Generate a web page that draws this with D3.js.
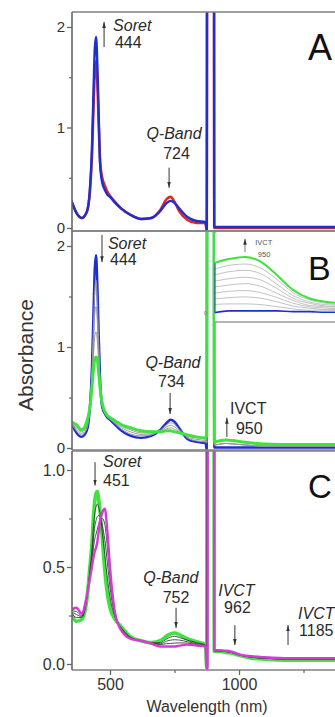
<!DOCTYPE html>
<html>
<head>
<meta charset="utf-8">
<script src="https://d3js.org/d3.v7.min.js"></script>
<style>
  body { margin: 0; background: #fff; }
  svg { display: block; font-family: "Liberation Sans", Arial, sans-serif; }
</style>
</head>
<body>
<script>
// wavelength grids (nm)
var wlUV = [350, 370, 390, 410, 422, 430, 436, 441, 446, 451, 456, 462, 470, 480, 490, 500, 520, 545, 580, 620, 660, 695, 720, 735, 750, 770, 800, 835, 870];
// detector change near 876 nm: the trace runs off scale and comes back
var wlNIR = [875, 878, 880, 902, 904, 930, 950, 975, 1000, 1050, 1100, 1200, 1300, 1400];

// panel A
var aRed = [0.27, 0.15, 0.10, 0.16, 0.36, 0.72, 1.20, 1.55, 1.66, 1.45, 1.05, 0.65, 0.50, 0.42, 0.36, 0.32, 0.26, 0.19, 0.13, 0.09, 0.10, 0.18, 0.29, 0.31, 0.26, 0.16, 0.08, 0.05, 0.05];
var aRedNIR = [-0.02, 9, 9, 9, 0.0, 0.0, 0.0, 0.0, 0.0, 0.0, 0.0, 0.0, 0.0, 0.0];
var aBlue = [0.28, 0.15, 0.10, 0.16, 0.38, 0.78, 1.35, 1.78, 1.90, 1.62, 1.15, 0.62, 0.45, 0.38, 0.33, 0.31, 0.25, 0.19, 0.13, 0.09, 0.10, 0.17, 0.25, 0.27, 0.25, 0.19, 0.11, 0.07, 0.06];
var aBlueNIR = [-0.03, 9, 9, 9, 0.01, 0.01, 0.01, 0.01, 0.01, 0.01, 0.01, 0.01, 0.01, 0.01];

// panel B
var bBlue = [0.25, 0.15, 0.11, 0.17, 0.40, 0.80, 1.35, 1.78, 1.91, 1.62, 1.15, 0.66, 0.40, 0.34, 0.30, 0.28, 0.23, 0.17, 0.12, 0.10, 0.12, 0.18, 0.25, 0.28, 0.26, 0.19, 0.09, 0.06, 0.05];
var bBlueNIR = [-0.02, 9, 9, 9, 0.005, 0.005, 0.005, 0.005, 0.005, 0.005, 0.005, 0.005, 0.005, 0.005];
var bGray1 = [0.25, 0.17, 0.13, 0.19, 0.40, 0.75, 1.21, 1.56, 1.66, 1.43, 1.05, 0.64, 0.41, 0.35, 0.31, 0.285, 0.24, 0.185, 0.14, 0.12, 0.13, 0.175, 0.23, 0.25, 0.235, 0.18, 0.10, 0.07, 0.06];
var bGray2 = [0.255, 0.19, 0.145, 0.215, 0.40, 0.70, 1.07, 1.33, 1.40, 1.25, 0.95, 0.62, 0.42, 0.35, 0.31, 0.29, 0.25, 0.20, 0.16, 0.135, 0.14, 0.17, 0.21, 0.225, 0.21, 0.17, 0.11, 0.085, 0.075];
var bGray3 = [0.26, 0.21, 0.16, 0.24, 0.40, 0.65, 0.92, 1.11, 1.15, 1.06, 0.85, 0.60, 0.43, 0.355, 0.315, 0.295, 0.26, 0.215, 0.18, 0.15, 0.15, 0.165, 0.19, 0.20, 0.185, 0.16, 0.12, 0.10, 0.09];
var bGrayNIR = [0.05, 9, 9, 9, 0.03, 0.04, 0.045, 0.04, 0.035, 0.025, 0.02, 0.02, 0.02, 0.02];
var bGreen = [0.26, 0.23, 0.18, 0.26, 0.40, 0.60, 0.78, 0.88, 0.90, 0.87, 0.75, 0.58, 0.44, 0.36, 0.32, 0.30, 0.27, 0.23, 0.20, 0.17, 0.16, 0.16, 0.17, 0.17, 0.16, 0.15, 0.13, 0.11, 0.10];
var bGreenNIR = [0.12, 9, 9, 9, 0.06, 0.075, 0.08, 0.075, 0.065, 0.05, 0.04, 0.035, 0.035, 0.035];

// panel B inset (NIR zoom)
var wlInset = [900, 925, 950, 975, 1000, 1025, 1050, 1075, 1100];
var insetBlue = [0.0, 0.003, 0.003, 0.003, 0.003, 0.002, 0.002, 0.001, 0.001];
var insetGrays = [
  [0.012, 0.013, 0.013, 0.012, 0.009, 0.006, 0.004, 0.004, 0.003],
  [0.020, 0.022, 0.023, 0.021, 0.016, 0.010, 0.007, 0.005, 0.005],
  [0.028, 0.031, 0.032, 0.029, 0.022, 0.014, 0.009, 0.007, 0.006],
  [0.037, 0.040, 0.042, 0.038, 0.028, 0.018, 0.011, 0.009, 0.008],
  [0.045, 0.049, 0.051, 0.047, 0.035, 0.021, 0.014, 0.010, 0.009],
  [0.054, 0.059, 0.061, 0.056, 0.041, 0.025, 0.016, 0.012, 0.011],
  [0.062, 0.068, 0.070, 0.064, 0.048, 0.029, 0.019, 0.014, 0.012]
];
var insetGreen = [0.071, 0.077, 0.080, 0.073, 0.054, 0.033, 0.021, 0.016, 0.014];

// panel C
var cGreen = [0.26, 0.22, 0.23, 0.33, 0.50, 0.62, 0.76, 0.84, 0.88, 0.89, 0.85, 0.78, 0.65, 0.48, 0.36, 0.29, 0.23, 0.19, 0.14, 0.12, 0.11, 0.12, 0.145, 0.155, 0.16, 0.15, 0.13, 0.115, 0.10];
var cGreenNIR = [-0.02, 9, 9, 9, 0.065, 0.065, 0.06, 0.055, 0.045, 0.03, 0.025, 0.02, 0.02, 0.02];
var cGray1 = [0.265, 0.24, 0.24, 0.335, 0.485, 0.59, 0.71, 0.775, 0.81, 0.825, 0.81, 0.77, 0.68, 0.56, 0.44, 0.345, 0.24, 0.185, 0.138, 0.12, 0.109, 0.11, 0.13, 0.139, 0.143, 0.136, 0.123, 0.11, 0.098];
var cGray2 = [0.27, 0.255, 0.245, 0.34, 0.47, 0.56, 0.655, 0.71, 0.74, 0.76, 0.765, 0.76, 0.715, 0.64, 0.52, 0.395, 0.245, 0.18, 0.135, 0.12, 0.108, 0.105, 0.118, 0.123, 0.125, 0.123, 0.115, 0.105, 0.095];
var cGray3 = [0.275, 0.27, 0.25, 0.345, 0.455, 0.53, 0.60, 0.645, 0.67, 0.695, 0.72, 0.75, 0.75, 0.72, 0.60, 0.445, 0.25, 0.175, 0.133, 0.12, 0.106, 0.10, 0.105, 0.106, 0.108, 0.109, 0.108, 0.10, 0.093];
var cGrayNIR = [-0.02, 9, 9, 9, 0.068, 0.067, 0.064, 0.058, 0.047, 0.035, 0.03, 0.025, 0.025, 0.025];
var cMagenta = [0.28, 0.29, 0.26, 0.35, 0.44, 0.50, 0.55, 0.58, 0.60, 0.63, 0.68, 0.74, 0.78, 0.80, 0.68, 0.50, 0.26, 0.17, 0.13, 0.12, 0.105, 0.09, 0.09, 0.09, 0.09, 0.095, 0.10, 0.095, 0.09];
var cMagentaNIR = [-0.03, -0.03, 9, 9, 0.072, 0.07, 0.068, 0.062, 0.05, 0.04, 0.035, 0.03, 0.03, 0.03];

var W = 335, H = 717;
var left = 72, right = 400;

var svg = d3.select("body").append("svg")
  .attr("width", W)
  .attr("height", H);

var x = d3.scaleLinear().domain([500, 1000]).range([110, 239]);

var blue = "#1e2fd2", red = "#e0291f", green = "#3fe23f", magenta = "#d63ad6";

// arrow head
svg.append("defs").append("marker")
  .attr("id", "ah")
  .attr("viewBox", "0 0 10 6")
  .attr("refX", 10).attr("refY", 3)
  .attr("markerWidth", 6).attr("markerHeight", 4)
  .attr("markerUnits", "userSpaceOnUse")
  .attr("orient", "auto")
  .append("path").attr("d", "M0,0L10,3L0,6z").attr("fill", "#333");

function join(uv, nir) {
  return wlUV.map(function(w, i) { return {w: w, v: uv[i]}; })
    .concat(wlNIR.map(function(w, i) { return {w: w, v: nir[i]}; }));
}

var panels = [
  {
    name: "A", top: 12, bottom: 231,
    y: d3.scaleLinear().domain([0, 2]).range([228, 27]),
    ticks: [0, 1, 2], minor: [0.5, 1.5], fmt: d3.format("d"), fs: 15,
    letter: {size: 36, base: 60},
    series: [
      {d: join(aRed, aRedNIR), c: red, w: 2.6},
      {d: join(aBlue, aBlueNIR), c: blue, w: 2.4}
    ],
    arrows: [{wl: 477, from: 1.80, to: 2.05}, {wl: 729, from: 0.60, to: 0.40}],
    labels: [
      {wl: 512, v: 1.96, t: "Soret", it: true, a: "start"},
      {wl: 519, v: 1.79, t: "444", a: "start"},
      {wl: 748, v: 0.886, t: "Q-Band", it: true, a: "middle"},
      {wl: 758, v: 0.687, t: "724", a: "middle"}
    ]
  },
  {
    name: "B", top: 231, bottom: 450,
    y: d3.scaleLinear().domain([0, 2]).range([448, 246]),
    ticks: [0, 1, 2], minor: [0.5, 1.5], fmt: d3.format("d"), fs: 15,
    letter: {size: 34, base: 280},
    series: [
      {d: join(bBlue, bBlueNIR), c: blue, w: 2.4},
      {d: join(bGray1, bGrayNIR), c: "#9a9a9a", w: 1},
      {d: join(bGray2, bGrayNIR), c: "#9a9a9a", w: 1},
      {d: join(bGray3, bGrayNIR), c: "#9a9a9a", w: 1},
      {d: join(bGreen, bGreenNIR), c: green, w: 3}
    ],
    arrows: [{wl: 469, from: 2.11, to: 1.84}, {wl: 733, from: 0.545, to: 0.337}, {wl: 953, from: 0.11, to: 0.30}],
    labels: [
      {wl: 492, v: 1.97, t: "Soret", it: true, a: "start"},
      {wl: 500, v: 1.81, t: "444", a: "start"},
      {wl: 744, v: 0.79, t: "Q-Band", it: true, a: "middle"},
      {wl: 738, v: 0.60, t: "734", a: "middle"},
      {wl: 965, v: 0.337, t: "IVCT", a: "start"},
      {wl: 988, v: 0.14, t: "950", a: "start"}
    ]
  },
  {
    name: "C", top: 451, bottom: 670,
    y: d3.scaleLinear().domain([0, 1]).range([664, 470]),
    ticks: [0, 0.5, 1], minor: [0.25, 0.75], fmt: d3.format(".1f"), fs: 16,
    letter: {size: 33, base: 498},
    series: [
      {d: join(cGreen, cGreenNIR), c: green, w: 3.6},
      {d: join(cGray1, cGrayNIR), c: "#3a3a3a", w: 0.9},
      {d: join(cGray2, cGrayNIR), c: "#3a3a3a", w: 0.9},
      {d: join(cGray3, cGrayNIR), c: "#3a3a3a", w: 0.9},
      {d: join(cMagenta, cMagentaNIR), c: magenta, w: 2.4}
    ],
    arrows: [{wl: 442, from: 1.04, to: 0.92}, {wl: 756, from: 0.29, to: 0.186}, {wl: 984, from: 0.20, to: 0.098}, {wl: 1190, from: 0.098, to: 0.20}],
    labels: [
      {wl: 473, v: 1.015, t: "Soret", it: true, a: "start"},
      {wl: 473, v: 0.92, t: "451", a: "start"},
      {wl: 736, v: 0.418, t: "Q-Band", it: true, a: "middle"},
      {wl: 756, v: 0.314, t: "752", a: "middle"},
      {wl: 990, v: 0.35, t: "IVCT", it: true, a: "middle"},
      {wl: 994, v: 0.263, t: "962", a: "middle"},
      {wl: 1229, v: 0.232, t: "IVCT", it: true, a: "start"},
      {wl: 1233, v: 0.144, t: "1185", a: "start"}
    ]
  }
];

panels.forEach(function(p) {
  var g = svg.append("g").attr("class", "panel-" + p.name);

  g.append("clipPath").attr("id", "clip" + p.name)
    .append("rect")
    .attr("x", left).attr("y", p.top)
    .attr("width", right - left).attr("height", p.bottom - p.top);

  var line = d3.line()
    .x(function(d) { return x(d.w); })
    .y(function(d) { return p.y(d.v); })
    .curve(d3.curveMonotoneX);

  var plot = g.append("g").attr("clip-path", "url(#clip" + p.name + ")");
  plot.selectAll("path.spec")
    .data(p.series)
    .enter().append("path")
    .attr("class", "spec")
    .attr("d", function(s) { return line(s.d); })
    .attr("fill", "none")
    .attr("stroke", function(s) { return s.c; })
    .attr("stroke-width", function(s) { return s.w; })
    .attr("stroke-linejoin", "round");

  // inset for B goes over the curves
  if (p.name == "B") drawInset(g);

  // frame
  g.append("line").attr("x1", left).attr("x2", W).attr("y1", p.top).attr("y2", p.top)
    .attr("stroke", "#808080").attr("stroke-width", 1.6);
  g.append("line").attr("x1", left).attr("x2", W).attr("y1", p.bottom).attr("y2", p.bottom)
    .attr("stroke", "#808080").attr("stroke-width", 1.6);
  g.append("line").attr("x1", left).attr("x2", left).attr("y1", p.top).attr("y2", p.bottom)
    .attr("stroke", "#666").attr("stroke-width", 1.6);

  // y axis
  var ax = g.append("g").attr("transform", "translate(" + left + ",0)")
    .call(d3.axisLeft(p.y).tickValues(p.ticks).tickFormat(p.fmt).tickSize(5).tickPadding(2));
  ax.select(".domain").remove();
  ax.selectAll("line").attr("stroke", "#666").attr("stroke-width", 1.3);
  ax.selectAll("text").attr("font-size", p.fs).attr("fill", "#333")
    .attr("font-family", "'Liberation Sans', Arial, sans-serif");
  var mx = g.append("g").attr("transform", "translate(" + left + ",0)")
    .call(d3.axisLeft(p.y).tickValues(p.minor).tickFormat("").tickSize(3));
  mx.select(".domain").remove();
  mx.selectAll("line").attr("stroke", "#666").attr("stroke-width", 1.2);

  // arrows and labels
  g.selectAll("line.arr")
    .data(p.arrows)
    .enter().append("line")
    .attr("class", "arr")
    .attr("x1", function(a) { return x(a.wl); })
    .attr("x2", function(a) { return x(a.wl); })
    .attr("y1", function(a) { return p.y(a.from); })
    .attr("y2", function(a) { return p.y(a.to); })
    .attr("stroke", "#333").attr("stroke-width", 1)
    .attr("marker-end", "url(#ah)");

  g.selectAll("text.lab")
    .data(p.labels)
    .enter().append("text")
    .attr("class", "lab")
    .attr("x", function(l) { return x(l.wl); })
    .attr("y", function(l) { return p.y(l.v); })
    .attr("text-anchor", function(l) { return l.a; })
    .attr("font-style", function(l) { return l.it ? "italic" : "normal"; })
    .attr("font-size", 16)
    .attr("fill", "#2a2a2a")
    .text(function(l) { return l.t; });

  g.append("text")
    .attr("x", 308).attr("y", p.letter.base)
    .attr("font-size", p.letter.size)
    .attr("fill", "#111")
    .text(p.name);
});

function drawInset(g) {
  var xi = d3.scaleLinear().domain([900, 1100]).range([213, 341]);
  var yi = d3.scaleLinear().domain([0, 0.08]).range([313, 257]);
  var ig = g.append("g").attr("class", "inset");

  ig.append("rect")
    .attr("x", 215).attr("y", 233)
    .attr("width", W - 215).attr("height", 89)
    .attr("fill", "#fff");

  ig.append("clipPath").attr("id", "clipInset")
    .append("rect").attr("x", 215).attr("y", 233).attr("width", W - 215).attr("height", 89);

  var iline = d3.line()
    .x(function(d, i) { return xi(wlInset[i]); })
    .y(function(d) { return yi(d); })
    .curve(d3.curveMonotoneX);

  var curves = [{d: insetBlue, c: blue, w: 1.6}]
    .concat(insetGrays.map(function(s) { return {d: s, c: "#b4b4b4", w: 0.8}; }))
    .concat([{d: insetGreen, c: green, w: 2}]);

  ig.append("g").attr("clip-path", "url(#clipInset)")
    .selectAll("path")
    .data(curves)
    .enter().append("path")
    .attr("d", function(s) { return iline(s.d); })
    .attr("fill", "none")
    .attr("stroke", function(s) { return s.c; })
    .attr("stroke-width", function(s) { return s.w; });

  // inset left axis and bottom
  ig.append("line").attr("x1", 215).attr("x2", 215).attr("y1", yi(0.071)).attr("y2", yi(0))
    .attr("stroke", "#3a4aa0").attr("stroke-width", 1.2);
  ig.append("line").attr("x1", 215).attr("x2", W).attr("y1", 322).attr("y2", 322)
    .attr("stroke", "#9a9a9a").attr("stroke-width", 1.4);
  ig.append("text").attr("x", 207).attr("y", yi(0) + 2)
    .attr("text-anchor", "end").attr("font-size", 6).attr("fill", "#777").text("0");

  ig.append("line")
    .attr("x1", xi(950)).attr("x2", xi(950))
    .attr("y1", yi(0.087)).attr("y2", yi(0.106))
    .attr("stroke", "#555").attr("stroke-width", 0.8)
    .attr("marker-end", "url(#ah)");
  ig.append("text").attr("x", xi(966)).attr("y", yi(0.097))
    .attr("font-size", 7.5).attr("fill", "#555").text("IVCT");
  ig.append("text").attr("x", xi(970)).attr("y", yi(0.080))
    .attr("font-size", 7.5).attr("fill", "#555").text("950");
}

// x axis on the bottom panel
var xa = svg.append("g").attr("transform", "translate(0,670)")
  .call(d3.axisBottom(x).tickValues([500, 1000]).tickFormat(d3.format("d")).tickSize(5).tickPadding(4));
xa.select(".domain").remove();
xa.selectAll("line").attr("stroke", "#666").attr("stroke-width", 1.3);
xa.selectAll("text").attr("font-size", 16).attr("fill", "#333")
  .attr("font-family", "'Liberation Sans', Arial, sans-serif");
var xm = svg.append("g").attr("transform", "translate(0,670)")
  .call(d3.axisBottom(x).tickValues([750, 1250]).tickFormat("").tickSize(3));
xm.select(".domain").remove();
xm.selectAll("line").attr("stroke", "#666").attr("stroke-width", 1.2);

svg.append("text")
  .attr("x", 207).attr("y", 712)
  .attr("text-anchor", "middle")
  .attr("font-size", 16).attr("fill", "#333")
  .text("Wavelength (nm)");

svg.append("text")
  .attr("transform", "translate(33,355) rotate(-90)")
  .attr("text-anchor", "middle")
  .attr("font-size", 21).attr("fill", "#333")
  .text("Absorbance");
</script>
</body>
</html>
